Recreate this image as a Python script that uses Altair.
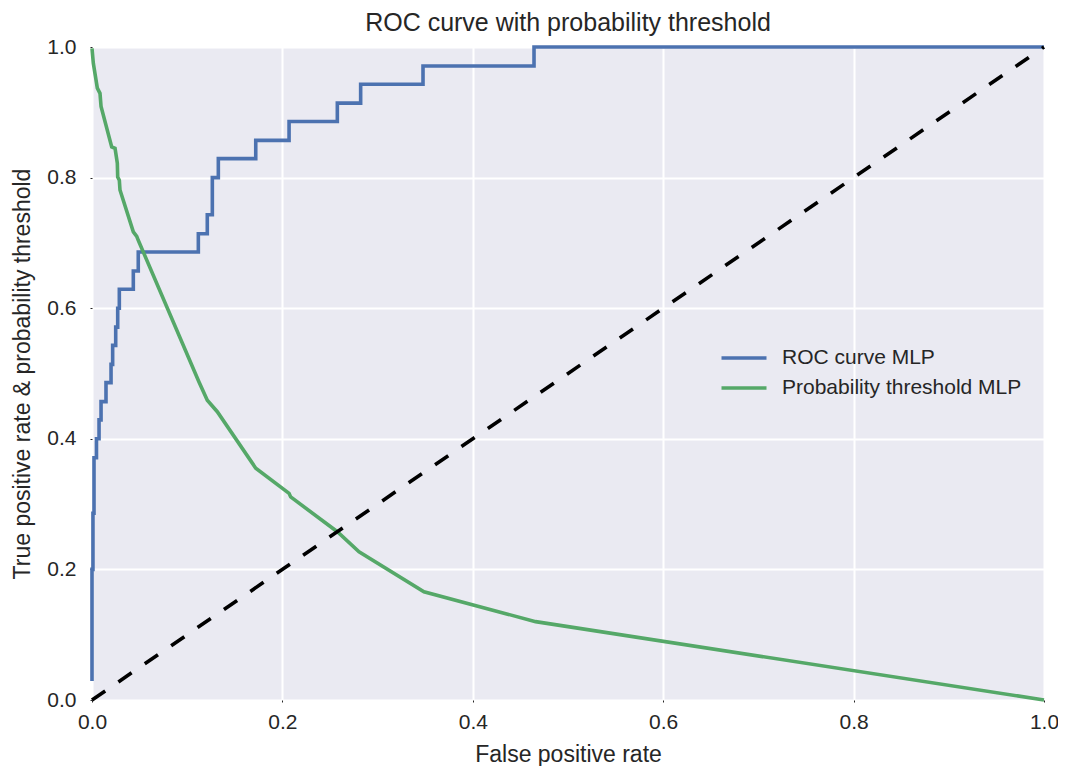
import altair as alt
import pandas as pd

# ---- data ----
roc_fpr = [0.0, 0.0, 0.001, 0.001, 0.0021, 0.0021, 0.0047, 0.0047, 0.0074, 0.0074,
           0.0095, 0.0095, 0.0147, 0.0147, 0.0200, 0.0200, 0.0217, 0.0217, 0.0249, 0.0249,
           0.0270, 0.0270, 0.0287, 0.0287, 0.0434, 0.0434, 0.0486, 0.0486, 0.1117, 0.1117,
           0.1211, 0.1211, 0.1264, 0.1264, 0.1327, 0.1327, 0.1720, 0.1720, 0.2070, 0.2070,
           0.2577, 0.2577, 0.2822, 0.2822, 0.3477, 0.3477, 0.4643, 0.4643, 1.0]
roc_tpr = [0.029, 0.200, 0.200, 0.286, 0.286, 0.371, 0.371, 0.400, 0.400, 0.429,
           0.429, 0.457, 0.457, 0.486, 0.486, 0.514, 0.514, 0.543, 0.543, 0.571,
           0.571, 0.600, 0.600, 0.629, 0.629, 0.657, 0.657, 0.686, 0.686, 0.714,
           0.714, 0.743, 0.743, 0.800, 0.800, 0.829, 0.829, 0.857, 0.857, 0.886,
           0.886, 0.914, 0.914, 0.943, 0.943, 0.971, 0.971, 1.0, 1.0]

thr_fpr = [0.0, 0.0014, 0.0056, 0.0084, 0.0095, 0.0207, 0.0242, 0.0266, 0.0270, 0.0287,
           0.0294, 0.0434, 0.0470, 0.0486, 0.1124, 0.1211, 0.1316, 0.1720, 0.2070, 0.2087,
           0.2577, 0.2805, 0.3487, 0.4660, 1.0]
thr_val = [0.998, 0.975, 0.937, 0.929, 0.909, 0.847, 0.845, 0.822, 0.801, 0.796,
           0.781, 0.717, 0.710, 0.704, 0.487, 0.459, 0.4415, 0.355, 0.3165, 0.311,
           0.2577, 0.227, 0.1658, 0.120, 0.0]

diag_vals = [0.0, 1.0]

series_names = ["ROC curve MLP", "Probability threshold MLP"]
series_colors = ["#4C72B0", "#55A868"]
tick_values = [0.0, 0.2, 0.4, 0.6, 0.8, 1.0]

FONT = "Liberation Sans"
TXT = "#262626"

roc_df = pd.DataFrame({"fpr": roc_fpr, "val": roc_tpr,
                       "series": series_names[0], "idx": range(len(roc_fpr))})
thr_df = pd.DataFrame({"fpr": thr_fpr, "val": thr_val,
                       "series": series_names[1], "idx": range(len(thr_fpr))})
diag_df = pd.DataFrame({"fpr": diag_vals, "val": diag_vals})

xscale = alt.Scale(domain=[0, 1], nice=False, zero=False)
yscale = alt.Scale(domain=[0, 1], nice=False, zero=False)

x_enc = alt.X("fpr:Q", scale=xscale,
              axis=alt.Axis(values=tick_values, format=".1f", title="False positive rate",
                            labelFlush=False, labelOverlap=False))
y_enc = alt.Y("val:Q", scale=yscale,
              axis=alt.Axis(values=tick_values, format=".1f",
                            title="True positive rate & probability threshold",
                            labelFlush=False, labelOverlap=False))

color_enc = alt.Color(
    "series:N",
    scale=alt.Scale(domain=series_names, range=series_colors),
    sort=series_names,
    legend=alt.Legend(
        title=None, orient="none", legendX=640, legendY=299,
        symbolType="M-2.25,0H2.25", symbolSize=400, symbolStrokeWidth=3.6,
        labelFont=FONT, labelFontSize=21, labelColor=TXT,
        labelOffset=26, rowPadding=8, padding=0, labelLimit=400,
    ),
)

roc_line = alt.Chart(roc_df).mark_line(strokeWidth=3.6, clip=False).encode(
    x=x_enc, y=y_enc, color=color_enc, order="idx:Q")
thr_line = alt.Chart(thr_df).mark_line(strokeWidth=3.6, clip=False).encode(
    x=x_enc, y=y_enc, color=color_enc, order="idx:Q")
diag_line = alt.Chart(diag_df).mark_line(
    strokeWidth=3.6, color="black", strokeDash=[16, 16], clip=False
).encode(x="fpr:Q", y="val:Q")

chart = alt.layer(roc_line, thr_line, diag_line).properties(
    width=952, height=653,
    title=alt.TitleParams("ROC curve with probability threshold", font=FONT,
                          fontSize=25, fontWeight="normal", color=TXT,
                          anchor="middle", offset=0),
    autosize=alt.AutoSizeParams(type="none"),
    padding={"left": 84, "top": 39, "right": 14, "bottom": 66},
).configure_view(
    fill="#EAEAF2", stroke=None
).configure_axis(
    grid=True, gridColor="white", gridWidth=2, domain=False,
    tickSize=2, tickColor=TXT, tickWidth=1,
    labelFont=FONT, labelFontSize=21, labelColor=TXT,
    titleFont=FONT, titleFontSize=23, titleColor=TXT, titleFontWeight="normal",
).configure_axisX(
    labelPadding=9, titlePadding=11,
).configure_axisY(
    labelPadding=14, titlePadding=12,
)

chart.save("out.html", embed_options={"renderer": "svg", "actions": False})
